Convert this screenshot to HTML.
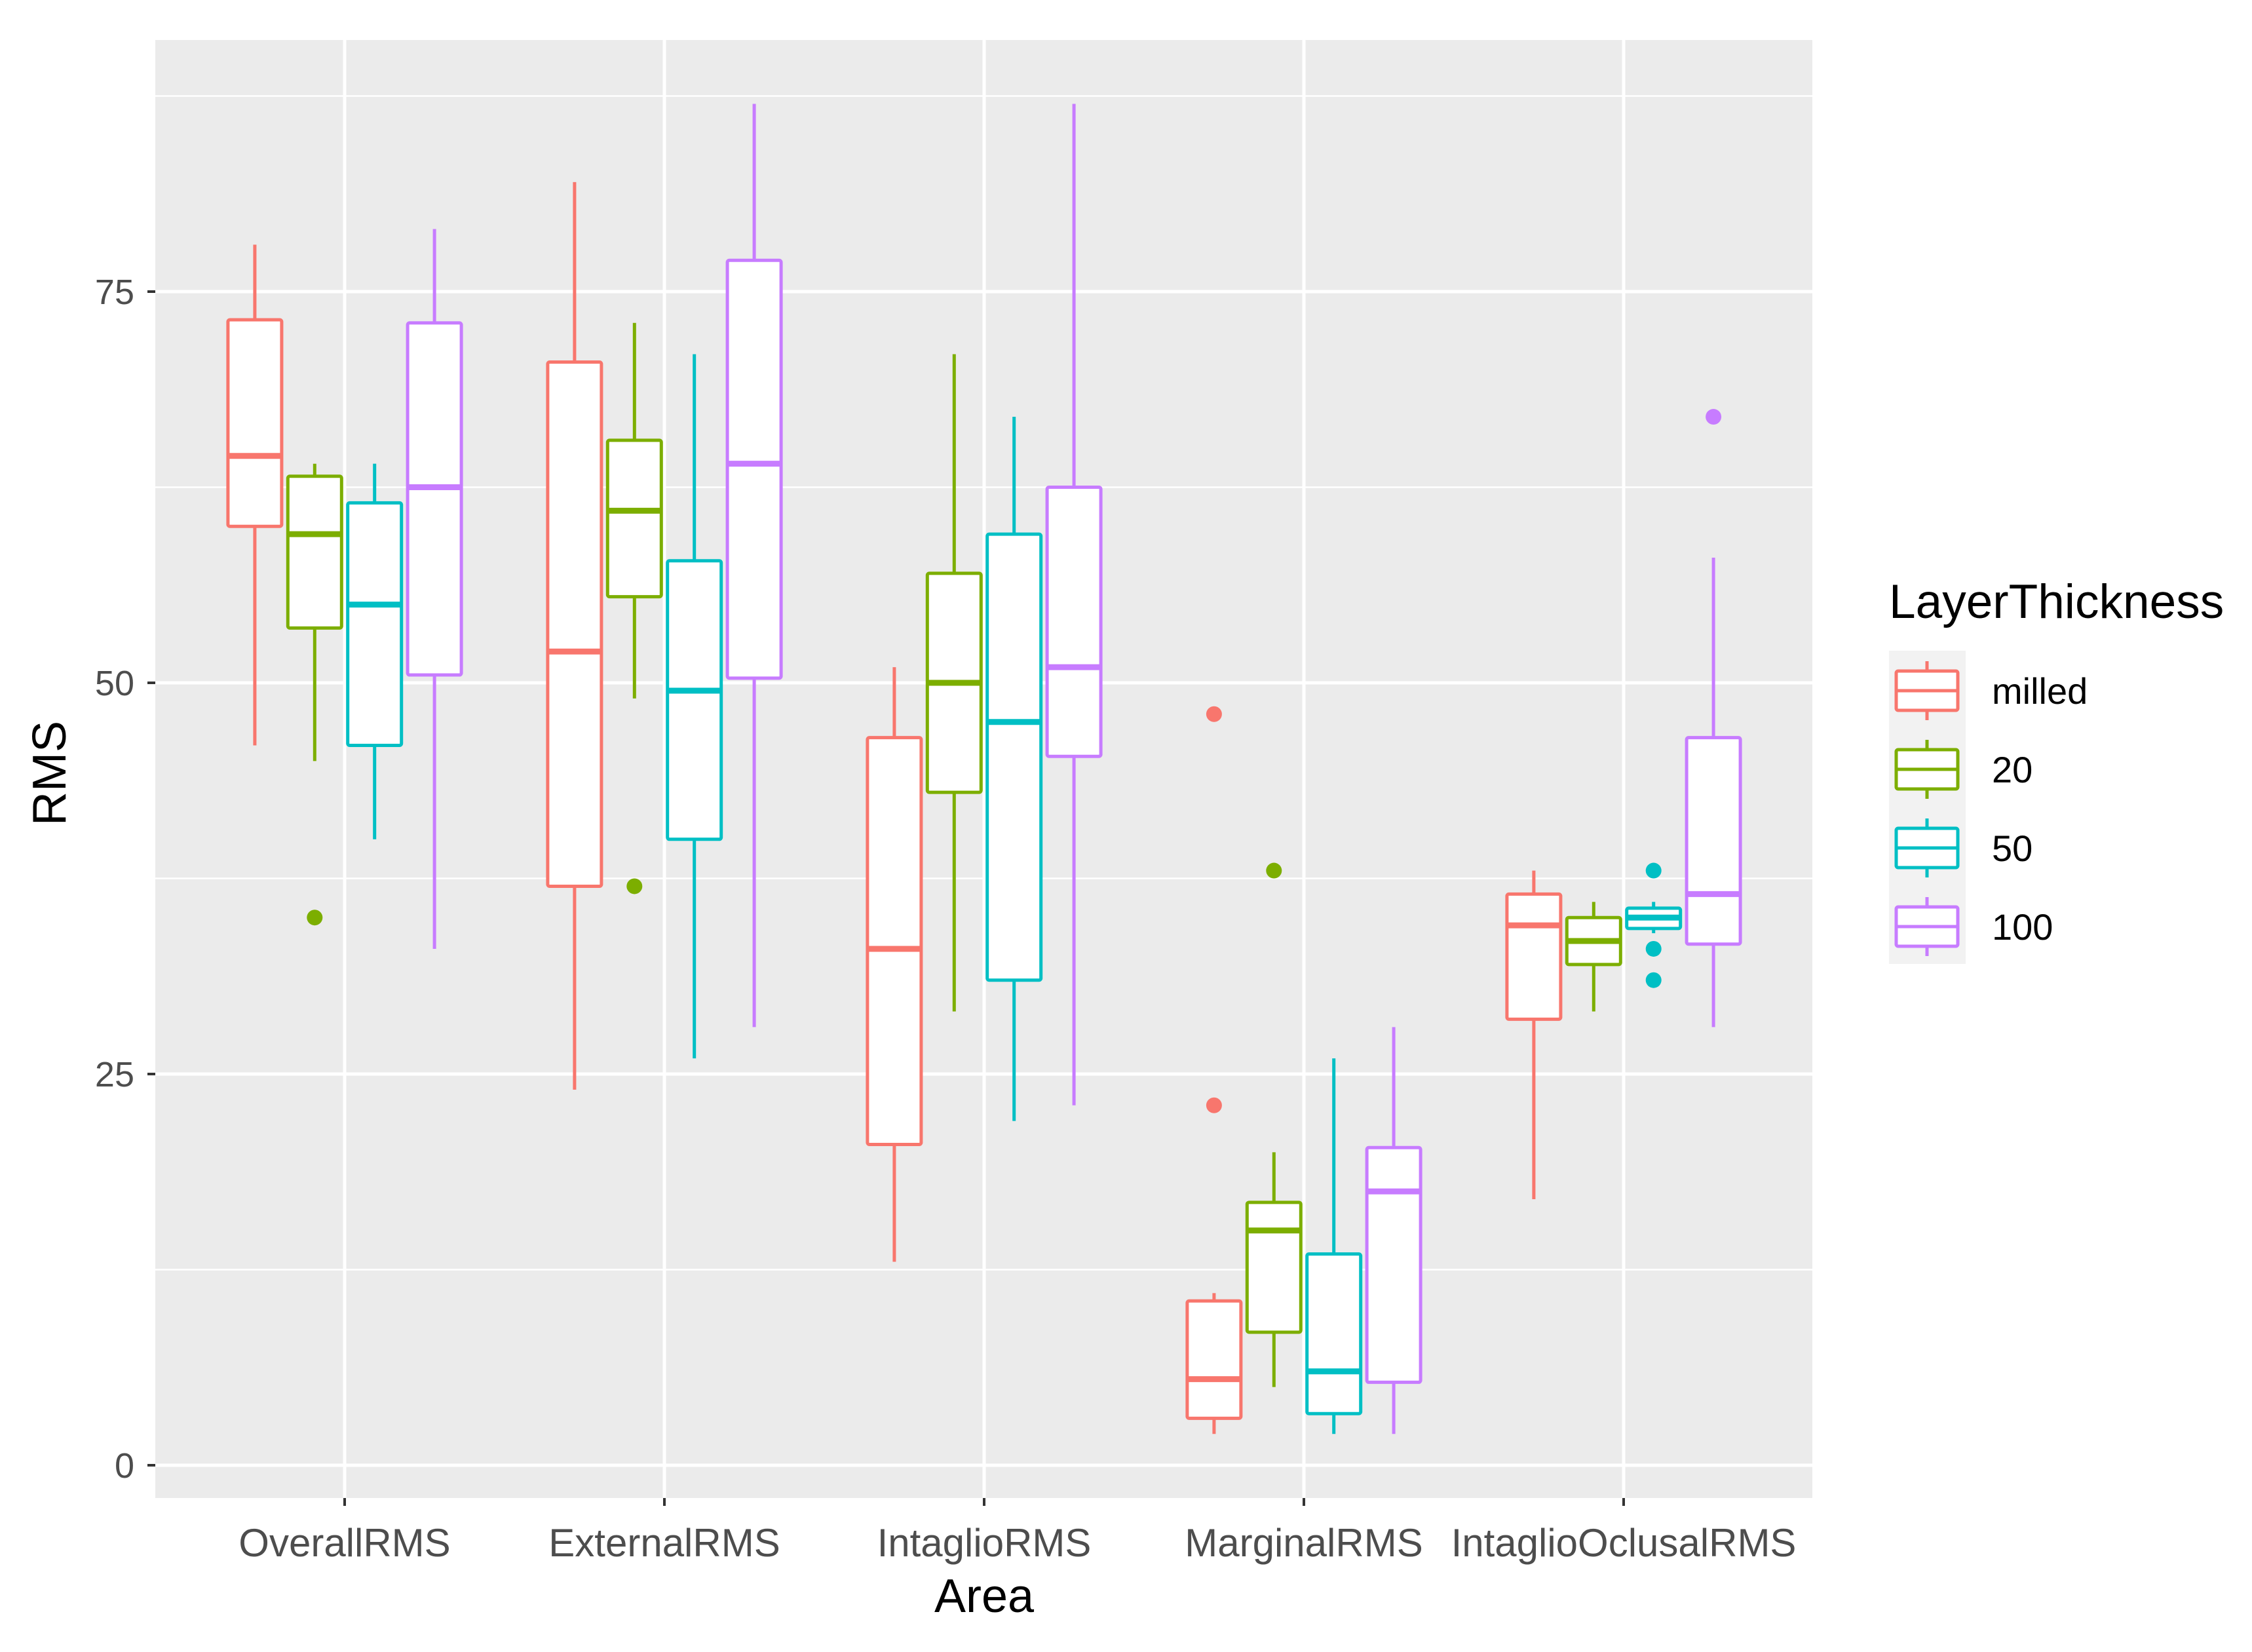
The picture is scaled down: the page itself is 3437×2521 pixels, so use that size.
<!DOCTYPE html>
<html><head><meta charset="utf-8"><style>
html,body{margin:0;padding:0;background:#fff;}
svg{display:block;font-family:"Liberation Sans",Arial,sans-serif;}
</style></head><body>
<svg id="chart" width="3437" height="2521" viewBox="0 0 3437 2521" xmlns="http://www.w3.org/2000/svg">
<rect x="237" y="61" width="2529" height="2225" fill="#EBEBEB"/>
<g id="grid"></g>
<g id="boxes"></g>
<g id="axes"></g>
<text x="1502" y="2460" font-size="72" text-anchor="middle" fill="#000">Area</text>
<text transform="translate(100,1180) rotate(-90)" font-size="72" text-anchor="middle" fill="#000">RMS</text>
<g id="legend"></g>
</svg>
<script>
const categories = ["OverallRMS","ExternalRMS","IntaglioRMS","MarginalRMS","IntaglioOclusalRMS"];
const groups = ["milled","20","50","100"];
const colors = ["#F8766D","#7CAE00","#00BFC4","#C77CFF"];
const yTicks = [0,25,50,75];
const yMinor = [12.5,37.5,62.5,87.5];
// per category, per group: [lowerWhisker, q1, median, q3, upperWhisker]
const statsMilled = [[46,60,64.5,73.2,78],[24,37,52,70.5,82],[13,20.5,33,46.5,51],[2,3,5.5,10.5,11],[17,28.5,34.5,36.5,38]];
const stats20 = [[45,53.5,59.5,63.2,64],[49,55.5,61,65.5,73],[29,43,50,57,71],[5,8.5,15,16.8,20],[29,32,33.5,35,36]];
const stats50 = [[40,46,55,61.5,64],[26,40,49.5,57.8,71],[22,31,47.5,59.5,67],[2,3.3,6,13.5,26],[34,34.3,35,35.6,36]];
const stats100 = [[33,50.5,62.5,73,79],[28,50.3,64,77,87],[23,45.3,51,62.5,87],[2,5.3,17.5,20.3,28],[28,33.3,36.5,46.5,58]];
const outliersMilled = [[],[],[],[48,23],[]];
const outliers20 = [[35],[37],[],[38],[]];
const outliers50 = [[],[],[],[],[38,33,31]];
const outliers100 = [[],[],[],[],[67]];

const allStats=[statsMilled,stats20,stats50,stats100];
const allOut=[outliersMilled,outliers20,outliers50,outliers100];
const NS="http://www.w3.org/2000/svg";
const PX0=237,PX1=2766,PY0=61,PY1=2286;
function y(v){return 2236 - v*23.88;}
function xc(i){return 526 + i*488;}
const step=91.4, bw=82;
function mk(tag,attrs,parent){const e=document.createElementNS(NS,tag);for(const k in attrs)e.setAttribute(k,attrs[k]);parent.appendChild(e);return e;}
const grid=document.getElementById('grid');
yMinor.forEach(v=>{const l=mk('line',{x1:PX0,x2:PX1,y1:y(v),y2:y(v),stroke:'#fff','stroke-width':2.5},grid);

});
yTicks.forEach(v=>{const l=mk('line',{x1:PX0,x2:PX1,y1:y(v),y2:y(v),stroke:'#fff','stroke-width':5},grid);

});
categories.forEach((c,i)=>{const l=mk('line',{x1:xc(i),x2:xc(i),y1:PY0,y2:PY1,stroke:'#fff','stroke-width':5},grid);

});
const axes=document.getElementById('axes');
yTicks.forEach(v=>{
 const t=mk('line',{x1:225,x2:237,y1:y(v),y2:y(v),stroke:'#333','stroke-width':4},axes);
 
 
 const tx=mk('text',{x:205,y:y(v)+19,'font-size':54,'text-anchor':'end',fill:'#4D4D4D'},axes);
 
 
 tx.textContent=v;
});
categories.forEach((c,i)=>{
 const t=mk('line',{x1:xc(i),x2:xc(i),y1:PY1,y2:PY1+12,stroke:'#333','stroke-width':4},axes);
 
 
 const tx=mk('text',{x:xc(i),y:2375,'font-size':60,'text-anchor':'middle',fill:'#4D4D4D'},axes);
 
 
 tx.textContent=c;
});
const boxes=document.getElementById('boxes');
categories.forEach((c,i)=>{
 groups.forEach((g,j)=>{
  const s=allStats[j][i], col=colors[j];
  const cx=xc(i)+(j-1.5)*step;
  const gg=mk('g',{},boxes);
  
  
  mk('line',{x1:cx,x2:cx,y1:y(s[0]),y2:y(s[1]),stroke:col,'stroke-width':5},gg);
  mk('line',{x1:cx,x2:cx,y1:y(s[3]),y2:y(s[4]),stroke:col,'stroke-width':5},gg);
  mk('rect',{x:cx-bw/2,y:y(s[3]),width:bw,height:y(s[1])-y(s[3]),fill:'#fff',stroke:col,'stroke-width':5,rx:3},gg);
  mk('line',{x1:cx-bw/2,x2:cx+bw/2,y1:y(s[2]),y2:y(s[2]),stroke:col,'stroke-width':9},gg);
  allOut[j][i].forEach(o=>{const d=mk('circle',{cx:cx,cy:y(o),r:12,fill:col},boxes);
   
   });
 });
});
const lg=document.getElementById('legend');
const lt=mk('text',{x:2883,y:943,'font-size':73,fill:'#000'},lg);


lt.textContent='LayerThickness';
const bg=mk('rect',{x:2883,y:993,width:117,height:478,fill:'#F2F2F2'},lg);


groups.forEach((g,j)=>{
 const cy=1054+j*120, col=colors[j], cx=2941;
 const e=mk('g',{},lg);
 
 
 mk('line',{x1:cx,x2:cx,y1:cy-45,y2:cy+45,stroke:col,'stroke-width':5},e);
 mk('rect',{x:cx-47,y:cy-30,width:94,height:60,fill:'#fff',stroke:col,'stroke-width':5,rx:3},e);
 mk('line',{x1:cx-47,x2:cx+47,y1:cy,y2:cy,stroke:col,'stroke-width':5},e);
 const t=mk('text',{x:3040,y:cy+20,'font-size':56,fill:'#000'},e);
 t.textContent=g;
});
</script>
</body></html>
